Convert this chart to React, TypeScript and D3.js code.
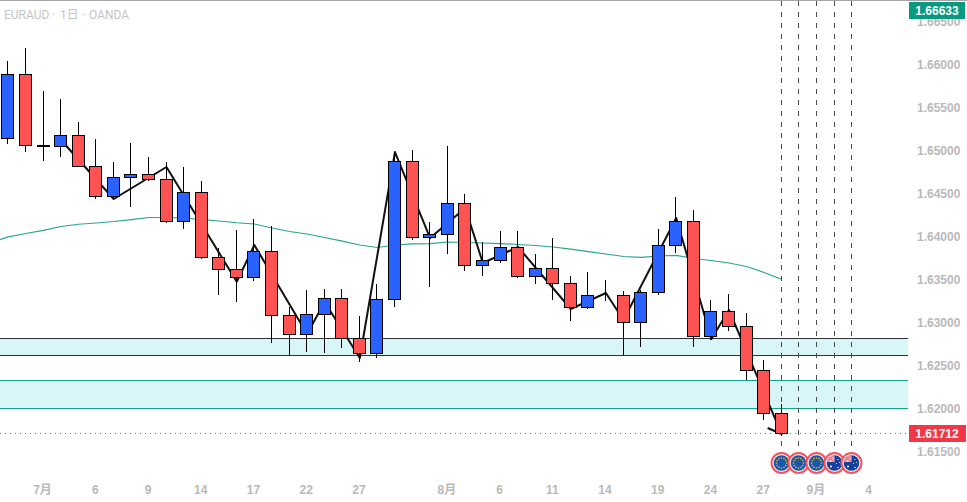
import React from "react";
import * as d3 from "d3";

const W = 967;
const H = 502;

const opens = [1.65148,1.65892,1.65066,1.65055,1.65183,1.64822,1.64473,1.64694,1.64729,1.64671,1.64183,1.64520,1.63764,1.63624,1.63531,1.63834,1.63089,1.62869,1.63101,1.63287,1.62822,1.62648,1.63276,1.64880,1.63997,1.64031,1.64392,1.63671,1.63729,1.63880,1.63543,1.63636,1.63462,1.63183,1.63322,1.63322,1.63008,1.63357,1.63903,1.64183,1.62845,1.63136,1.62962,1.62450,1.61950];
const closes = [1.65892,1.65066,1.65055,1.65183,1.64822,1.64473,1.64694,1.64729,1.64671,1.64183,1.64520,1.63764,1.63624,1.63531,1.63834,1.63089,1.62869,1.63101,1.63287,1.62822,1.62648,1.63276,1.64880,1.63997,1.64031,1.64392,1.63671,1.63729,1.63880,1.63543,1.63636,1.63462,1.63183,1.63322,1.63322,1.63008,1.63357,1.63903,1.64183,1.62845,1.63136,1.62962,1.62450,1.61950,1.61712];
const highs = [1.66047,1.66194,1.65698,1.65605,1.65334,1.65136,1.64869,1.65090,1.64927,1.64869,1.64810,1.64648,1.63869,1.64081,1.64206,1.64128,1.63190,1.63384,1.63395,1.63395,1.63081,1.63453,1.64985,1.65012,1.64171,1.65058,1.64500,1.63942,1.64070,1.64070,1.63802,1.63988,1.63547,1.63593,1.63500,1.63369,1.63380,1.64093,1.64465,1.64314,1.63267,1.63337,1.63116,1.62570,1.62058];
const lows = [1.65085,1.64992,1.64887,1.64934,1.64815,1.64442,1.64438,1.64352,1.64655,1.64166,1.64097,1.63748,1.63329,1.63248,1.63492,1.62771,1.62613,1.62666,1.62655,1.62713,1.62550,1.62597,1.63190,1.63965,1.63422,1.63806,1.63608,1.63550,1.63698,1.63527,1.63457,1.63271,1.63027,1.63166,1.63256,1.62624,1.62724,1.63329,1.63817,1.62724,1.62806,1.62910,1.62337,1.61872,1.61686];

const maIndex = [-1,0,1,2,3,4,5,6,7,8,9,10,11,12,13,14,15,16,17,18,19,20,21,22,23,24,25,26,27,28,29,30,31,32,33,34,35,36,37,38,39,40,41,42,43,44];
const maValues = [1.63936,1.64001,1.64041,1.64078,1.64122,1.64148,1.64163,1.64180,1.64203,1.64227,1.64227,1.64221,1.64203,1.64186,1.64166,1.64151,1.64105,1.64064,1.64035,1.63994,1.63953,1.63907,1.63878,1.63907,1.63919,1.63922,1.63942,1.63936,1.63930,1.63924,1.63913,1.63901,1.63884,1.63860,1.63831,1.63802,1.63773,1.63764,1.63779,1.63787,1.63750,1.63727,1.63698,1.63657,1.63587,1.63508];

const swingIndex = [3,6,9,13,14,17,18,20,22,24,26,27,29,32,34,35,38,40,41,44,43.2];
const swingValues = [1.65128,1.64442,1.64814,1.63480,1.63907,1.62872,1.63244,1.62593,1.64988,1.63988,1.64337,1.63698,1.63884,1.63163,1.63349,1.63035,1.64221,1.62814,1.63151,1.61709,1.61779];

const priceTicks = [1.665,1.66,1.655,1.65,1.645,1.64,1.635,1.63,1.625,1.62,1.615];
const timeLabels = ["7月","6","9","14","17","22","27","8月","6","11","14","19","24","27","9月","4"];
const timeIndex = [2,5,8,11,14,17,20,25,28,31,34,37,40,43,46,49];
const darkZone = [1.62822,1.62624];
const tealZone = [1.62334,1.62008];
const eventIndex = [44,45,46,47,48];
const eventFlags = ["EU","EU","EU","AU","AU"];
const lastPrice = 1.61712;
const highPrice = 1.66633;
const titleParts = ["EURAUD", "·", "1日", "·", "OANDA"];
const titleStarts = [4, 52, 60, 83, 89];

const x = d3.scaleLinear().domain([0, 44]).range([7.85, 781.28]);
const y = d3.scaleLinear().domain([1.66, 1.615]).range([65, 452]);
const px = (i: number) => Math.floor(x(i)) + 0.5;
const py = (p: number) => Math.floor(y(p)) + 0.5;

const FONT = "'Liberation Sans', Arial, sans-serif";
const AXIS = "#b9b9b9";

const lineGen = d3.line<[number, number]>().x((d) => x(d[0]) + 0.4).y((d) => y(d[1]));

function Flag({ cx, cy, kind, id }: { cx: number; cy: number; kind: string; id: string }) {
  const ring = d3.range(12).map((k) => (k / 12) * Math.PI * 2);
  return (
    <g>
      <defs>
        <clipPath id={id}><circle cx={cx} cy={cy} r={7.8} /></clipPath>
      </defs>
      <circle cx={cx} cy={cy} r={10} fill="#f1f1f1" stroke="#f7525f" strokeWidth={2} />
      <circle cx={cx} cy={cy} r={7.8} fill={kind === "EU" ? "#1c56a8" : "#12409a"} />
      {kind === "EU" &&
        ring.map((a, k) => (
          <circle key={k} cx={cx + Math.cos(a) * 5} cy={cy + Math.sin(a) * 5} r={0.8} fill="#e0c93a" />
        ))}
      {kind === "AU" && (
        <g clipPath={`url(#${id})`}>
          <rect x={cx - 8} y={cy - 8} width={8} height={7} fill="#e9b9c4" />
          <path d={`M${cx - 8} ${cy - 8}L${cx} ${cy - 1}M${cx} ${cy - 8}L${cx - 8} ${cy - 1}`} stroke="#ef6f7f" strokeWidth={1.2} />
          <circle cx={cx - 3.5} cy={cy + 3.5} r={1} fill="#fff" />
          <circle cx={cx + 3.5} cy={cy - 3.5} r={0.6} fill="#fff" />
          <circle cx={cx + 5} cy={cy - 0.5} r={0.6} fill="#fff" />
          <circle cx={cx + 2} cy={cy + 0.5} r={0.6} fill="#fff" />
          <circle cx={cx + 3.5} cy={cy + 4.5} r={0.7} fill="#fff" />
        </g>
      )}
    </g>
  );
}

export default function App() {
  const ma = maIndex.map((v, i) => [v, maValues[i]] as [number, number]);
  const swing = swingIndex.map((v, i) => [v, swingValues[i]] as [number, number]);
  return (
    <svg
      width={W}
      height={H}
      viewBox={`0 0 ${W} ${H}`}
      style={{ position: "fixed", left: 0, top: 0, display: "block", background: "#fff" }}
      fontFamily={FONT}
    >
      <rect x={0} y={0} width={W} height={1} fill="#a6a6a6" />

      {[darkZone, tealZone].map((z, k) => (
        <g key={k} shapeRendering="crispEdges">
          <rect x={0} y={py(z[0])} width={908} height={py(z[1]) - py(z[0])} fill="#d8f5f7" />
          {z.map((p, j) => (
            <line key={j} x1={0} x2={908} y1={py(p)} y2={py(p)} stroke={k === 0 ? "#2f3336" : "#12a58c"} strokeWidth={1} />
          ))}
        </g>
      ))}

      <path d={lineGen(ma) ?? ""} fill="none" stroke="#2ba392" strokeWidth={1.2} />

      {eventIndex.map((e) => (
        <line key={e} x1={px(e)} x2={px(e)} y1={1} y2={449} stroke="#4a4a4a" strokeWidth={1} strokeDasharray="5 6" shapeRendering="crispEdges" />
      ))}

      <line x1={0} x2={908} y1={py(lastPrice)} y2={py(lastPrice)} stroke="#f23645" strokeWidth={1} strokeDasharray="1 4" shapeRendering="crispEdges" />

      <path d={lineGen(swing) ?? ""} fill="none" stroke="#111" strokeWidth={2} strokeLinejoin="round" />

      <g shapeRendering="crispEdges">
        {opens.map((o, i) => {
          const c = closes[i];
          const top = py(Math.max(o, c));
          const bot = py(Math.min(o, c));
          const cx = px(i);
          return (
            <g key={i}>
              <line x1={cx} x2={cx} y1={y(highs[i])} y2={y(lows[i])} stroke="#000" strokeWidth={1} />
              <rect x={cx - 6} y={top} width={12} height={bot - top} fill={c >= o ? "#2962ff" : "#ff5252"} stroke="#000" strokeWidth={1} />
            </g>
          );
        })}
      </g>

      {titleParts.map((t, k) => (
        <text key={k} x={titleStarts[k]} y={19} fontSize={12} fill="#c4c4c4" fontFamily="Roboto, 'Noto Sans CJK JP', sans-serif">
          {t}
        </text>
      ))}

      {priceTicks.map((p) => (
        <text key={p} x={917} y={y(p) + 4} fontSize={12} fontWeight={700} fill={AXIS}>
          {p.toFixed(5)}
        </text>
      ))}

      <rect x={909} y={2} width={56} height={17} fill="#089981" />
      <text x={937} y={y(highPrice) + 4.5} textAnchor="middle" fontSize={12} fontWeight={700} fill="#fff">
        {highPrice.toFixed(5)}
      </text>
      <rect x={909} y={425} width={57} height={17} fill="#f23645" />
      <text x={937} y={y(lastPrice) + 4.5} textAnchor="middle" fontSize={12} fontWeight={700} fill="#fff">
        {lastPrice.toFixed(5)}
      </text>

      {eventIndex.map((e, k) => (
        <Flag key={e} cx={px(e)} cy={463} kind={eventFlags[k]} id={`flag${k}`} />
      ))}

      {timeLabels.map((t, k) => (
        <text
          key={k}
          x={x(timeIndex[k]) - 0.5}
          y={494}
          textAnchor="middle"
          fontSize={12}
          fontWeight={700}
          fill={AXIS}
          fontFamily="'Liberation Sans', 'Noto Sans CJK JP', sans-serif"
        >
          {t}
        </text>
      ))}
    </svg>
  );
}
